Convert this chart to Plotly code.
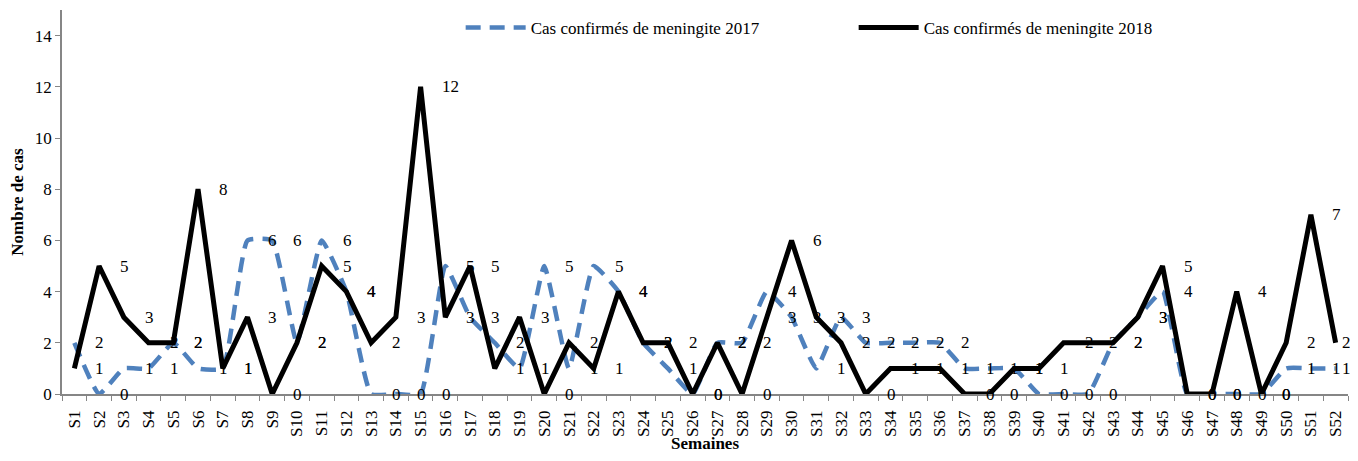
import plotly.graph_objects as go

# =========================================================
# DATA
# =========================================================
semaines = [f"S{i}" for i in range(1, 53)]

cas_2017 = [2, 0, 1, 1, 2, 1, 1, 6, 6, 2, 6, 4, 0, 0, 0, 5, 3, 2, 1, 5,
            1, 5, 4, 2, 1, 0, 2, 2, 4, 3, 1, 3, 2, 2, 2, 2, 1, 1, 1, 0,
            0, 0, 2, 3, 4, 0, 0, 0, 0, 1, 1, 1]

cas_2018 = [1, 5, 3, 2, 2, 8, 1, 3, 0, 2, 5, 4, 2, 3, 12, 3, 5, 1, 3, 0,
            2, 1, 4, 2, 2, 0, 2, 0, 3, 6, 3, 2, 0, 1, 1, 1, 0, 0, 1, 1,
            2, 2, 2, 3, 5, 0, 0, 4, 0, 2, 7, 2]

y_ticks = [0, 2, 4, 6, 8, 10, 12, 14]

# =========================================================
# STYLE
# =========================================================
FONT = "Liberation Serif"
BLUE = "#4F81BD"
AXIS = "#868686"

# the page body has an 8px margin, so the figure is a bit smaller
FIG_W = 1350
FIG_H = 445

fig = go.Figure()

fig.add_trace(go.Scatter(
    x=semaines, y=cas_2017, mode="lines",
    name="Cas confirmés de meningite 2017",
    line=dict(color=BLUE, width=4.5, dash="15px,9px", shape="spline", smoothing=0.4),
))
fig.add_trace(go.Scatter(
    x=semaines, y=cas_2018, mode="lines",
    name="Cas confirmés de meningite 2018",
    line=dict(color="black", width=5),
))

# data labels, placed right of each point (Excel style)
last = semaines[-1]
for serie in (cas_2017, cas_2018):
    for s, v in zip(semaines, serie):
        fig.add_annotation(
            x=s, y=v, text=str(v), showarrow=False,
            xanchor="left", yanchor="middle",
            xshift=4 if s == last else 19,  # keep the last label inside the page
            font=dict(family=FONT, size=17, color="black"),
        )

fig.update_layout(
    width=FIG_W, height=FIG_H,
    paper_bgcolor="white", plot_bgcolor="white",
    margin=dict(l=54, r=10, t=2, b=59, autoexpand=False),
    font=dict(family=FONT, size=17, color="black"),
    showlegend=True,
    legend=dict(
        orientation="h", x=0.31, y=0.953, xanchor="left", yanchor="middle",
        bgcolor="rgba(0,0,0,0)", font=dict(family=FONT, size=17),
        entrywidth=318, itemwidth=60,
    ),
)

fig.update_xaxes(
    type="category", range=[-0.5, len(semaines) - 0.5],
    showgrid=False, zeroline=False, automargin=False,
    showline=True, linecolor=AXIS, linewidth=1.5,
    ticks="outside", tickson="boundaries", ticklen=5, tickcolor=AXIS,
    tickangle=-90, ticklabelstandoff=8, tickfont=dict(family=FONT, size=17),
    title=dict(text="<b>Semaines</b>", font=dict(family=FONT, size=17), standoff=15),
)
fig.update_yaxes(
    range=[0, 15], tickvals=y_ticks, showgrid=False, zeroline=False, automargin=False,
    showline=True, linecolor=AXIS, linewidth=1.5,
    ticks="outside", ticklen=5, tickcolor=AXIS,
    tickfont=dict(family=FONT, size=17),
    title=dict(text="<b>Nombre de cas</b>", font=dict(family=FONT, size=17), standoff=8),
)

fig.write_html("out.html")
